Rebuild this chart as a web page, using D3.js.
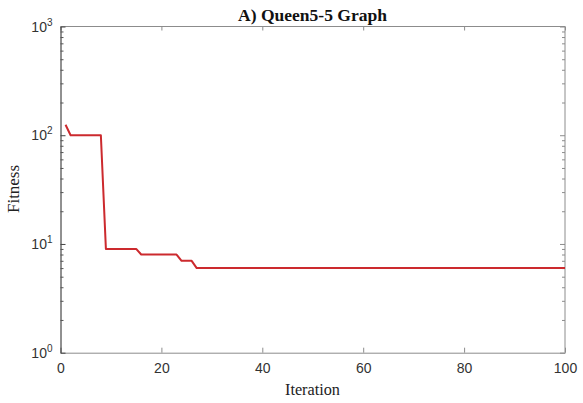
<!DOCTYPE html>
<html>
<head>
<meta charset="utf-8">
<script src="https://cdn.jsdelivr.net/npm/d3@7"></script>
<style>
  html, body { margin: 0; padding: 0; background: #fff; }
  svg { display: block; }
</style>
</head>
<body>
<svg id="chart" width="583" height="403"></svg>
<script>
// Best fitness per iteration (iterations 1..100)
const iterations = d3.range(1, 101);
const fitness = [
  125, 100, 100, 100, 100, 100, 100, 100, 9, 9,
  9, 9, 9, 9, 9, 8, 8, 8, 8, 8,
  8, 8, 8, 7, 7, 7, 6, 6, 6, 6,
  6, 6, 6, 6, 6, 6, 6, 6, 6, 6,
  6, 6, 6, 6, 6, 6, 6, 6, 6, 6,
  6, 6, 6, 6, 6, 6, 6, 6, 6, 6,
  6, 6, 6, 6, 6, 6, 6, 6, 6, 6,
  6, 6, 6, 6, 6, 6, 6, 6, 6, 6,
  6, 6, 6, 6, 6, 6, 6, 6, 6, 6,
  6, 6, 6, 6, 6, 6, 6, 6, 6, 6
];
const xTicks = [0, 20, 40, 60, 80, 100];
const yDecades = [1, 10, 100, 1000];
const yExponents = ["0", "1", "2", "3"];
const titleText = "A) Queen5-5 Graph";
const xLabel = "Iteration";
const yLabel = "Fitness";

(function () {
const svg = d3.select("#chart");
const pLeft = 60.5, pRight = 565, pTop = 26.5, pBottom = 352.7;

const x = d3.scaleLinear().domain([0, 100]).range([pLeft, pRight]);
const y = d3.scaleLog().domain([1, 1000]).range([pBottom, pTop]);

// minor log ticks 2..9 within each decade
const minorTicks = [];
for (let i = 0; i < yDecades.length - 1; i++) {
  for (let k = 2; k <= 9; k++) minorTicks.push(yDecades[i] * k);
}

const tickFont = "'Liberation Sans', Arial, sans-serif";
const serif = "'Liberation Serif', 'Times New Roman', serif";
const boxGray = "#8c8c8c";

// frame: top and right in gray
svg.append("line").attr("x1", pLeft).attr("x2", pRight).attr("y1", pTop).attr("y2", pTop)
  .attr("stroke", boxGray).attr("stroke-width", 1);
svg.append("line").attr("x1", pRight).attr("x2", pRight).attr("y1", pTop).attr("y2", pBottom)
  .attr("stroke", boxGray).attr("stroke-width", 1);

// bottom axis
const xAxis = d3.axisBottom(x).tickValues(xTicks).tickSizeInner(-5).tickSizeOuter(0).tickPadding(10);
const gx = svg.append("g").attr("transform", `translate(0,${pBottom})`).call(xAxis);
gx.select(".domain").attr("stroke", boxGray);
gx.selectAll(".tick line").attr("stroke", boxGray);
gx.selectAll(".tick text").attr("font-family", tickFont).attr("font-size", 14).attr("fill", "#333");

// top axis ticks (no labels)
const gxTop = svg.append("g").attr("transform", `translate(0,${pTop})`)
  .call(d3.axisTop(x).tickValues(xTicks).tickSizeInner(-4).tickSizeOuter(0).tickFormat(""));
gxTop.select(".domain").remove();
gxTop.selectAll(".tick line").attr("stroke", boxGray);

// left axis: decades with major ticks, minors shorter
const gy = svg.append("g").attr("transform", `translate(${pLeft},0)`)
  .call(d3.axisLeft(y).tickValues(yDecades).tickSizeInner(-5).tickSizeOuter(0).tickFormat(""));
gy.select(".domain").attr("stroke", "#222");
gy.selectAll(".tick line").attr("stroke", "#444");
const gyMinor = svg.append("g").attr("transform", `translate(${pLeft},0)`)
  .call(d3.axisLeft(y).tickValues(minorTicks).tickSizeInner(-3).tickSizeOuter(0).tickFormat(""));
gyMinor.select(".domain").remove();
gyMinor.selectAll(".tick line").attr("stroke", "#555");

// decade labels as 10^n
const yl = svg.append("g");
yDecades.forEach((d, i) => {
  const t = yl.append("text")
    .attr("x", pLeft - 8).attr("y", y(d) + 5)
    .attr("text-anchor", "end")
    .attr("font-family", tickFont).attr("font-size", 14).attr("fill", "#333");
  t.append("tspan").text("10");
  t.append("tspan").attr("dy", -6).attr("font-size", 10).text(yExponents[i]);
});

// right axis ticks
const gyR = svg.append("g").attr("transform", `translate(${pRight},0)`)
  .call(d3.axisRight(y).tickValues(yDecades).tickSizeInner(-5).tickSizeOuter(0).tickFormat(""));
gyR.select(".domain").remove();
gyR.selectAll(".tick line").attr("stroke", boxGray);
const gyRMinor = svg.append("g").attr("transform", `translate(${pRight},0)`)
  .call(d3.axisRight(y).tickValues(minorTicks).tickSizeInner(-3).tickSizeOuter(0).tickFormat(""));
gyRMinor.select(".domain").remove();
gyRMinor.selectAll(".tick line").attr("stroke", boxGray);

// fitness curve
const line = d3.line().x((d, i) => x(iterations[i])).y(d => y(d));
svg.append("path").datum(fitness)
  .attr("d", line)
  .attr("fill", "none")
  .attr("stroke", "#cc2a2e")
  .attr("stroke-width", 2)
  .attr("stroke-linejoin", "round");

// title and axis labels
svg.append("text").attr("x", 312.5).attr("y", 21)
  .attr("text-anchor", "middle")
  .attr("font-family", serif).attr("font-weight", "bold").attr("font-size", 16)
  .attr("textLength", 149).attr("lengthAdjust", "spacingAndGlyphs")
  .attr("fill", "#111").text(titleText);
svg.append("text").attr("x", 312.5).attr("y", 395)
  .attr("text-anchor", "middle")
  .attr("font-family", serif).attr("font-size", 16)
  .attr("textLength", 55).attr("lengthAdjust", "spacingAndGlyphs")
  .attr("fill", "#222").text(xLabel);
svg.append("text")
  .attr("transform", "translate(18.5,189) rotate(-90)")
  .attr("text-anchor", "middle")
  .attr("font-family", serif).attr("font-size", 16)
  .attr("textLength", 48).attr("lengthAdjust", "spacingAndGlyphs")
  .attr("fill", "#222").text(yLabel);
})();
</script>
</body>
</html>
